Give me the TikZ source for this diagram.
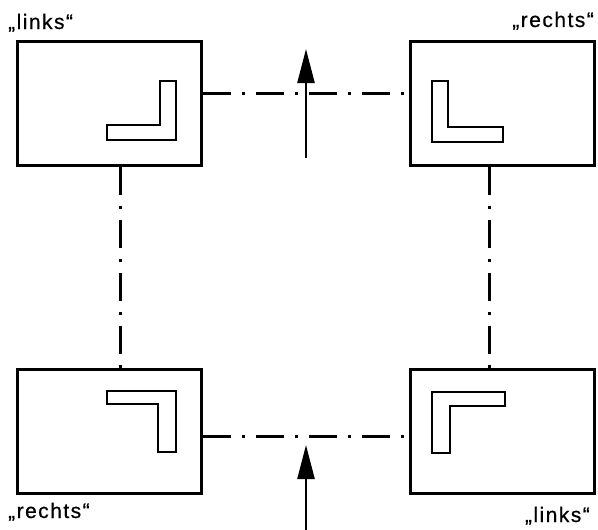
\documentclass[tikz,border=0pt]{standalone}
\usepackage{fontspec}
\setmainfont{Liberation Sans}
\newfontfamily\bildschrift[LetterSpace=7, FakeBold=0.6]{Liberation Sans}
\usetikzlibrary{arrows.meta}

\tikzset{
	spiegel/.style={draw, line width=2.8pt, inner sep=0pt, minimum width=184pt, minimum height=124pt, anchor=north west},
	winkel/.style={line width=2.8pt, line join=miter},
	strichpunkt/.style={line width=2.6pt, dash pattern=on 28pt off 11pt on 3pt off 11pt},
	blick/.style={line width=2.4pt, -{Triangle[length=34pt,width=17pt]}},
	schrift/.style={inner sep=0pt, font=\bildschrift\fontsize{21}{21}\selectfont}
}

\begin{document}
\begin{tikzpicture}[x=1pt, y=-1pt]
		\useasboundingbox (0,0) rectangle (598,530);
		% die vier Bilder
		\node[spiegel] (tl) at (16,40) {};
		\node[spiegel] (tr) at (409,40) {};
		\node[spiegel] (bl) at (16,368) {};
		\node[spiegel] (br) at (409,368) {};
		% Winkel in den Bildern
		\begin{scope}[shift={(tl.north west)}]
			\draw[winkel] (91,85) -- (144,85) -- (144,41) -- (160,41) -- (160,100) -- (91,100) -- cycle;
		\end{scope}
		\begin{scope}[shift={(tr.north west)}]
			\draw[winkel] (23,41) -- (39,41) -- (39,87) -- (94,87) -- (94,102) -- (23,102) -- cycle;
		\end{scope}
		\begin{scope}[shift={(bl.north west)}]
			\draw[winkel] (91,23) -- (160,23) -- (160,84) -- (142,84) -- (142,36) -- (91,36) -- cycle;
		\end{scope}
		\begin{scope}[shift={(br.north west)}]
			\draw[winkel] (23,24) -- (96,24) -- (96,38) -- (41,38) -- (41,85) -- (23,85) -- cycle;
		\end{scope}
		% Verbindungen
		\draw[strichpunkt] ([yshift=10pt]tl.east) -- ([yshift=10pt]tr.west);
		\draw[strichpunkt] ([yshift=-5pt]bl.east) -- ([yshift=-5pt]br.west);
		\draw[strichpunkt] ([xshift=11pt]tl.south) -- ([xshift=11pt]bl.north);
		\draw[strichpunkt] ([xshift=-13pt]tr.south) -- ([xshift=-13pt]br.north);
		% Blickrichtung
		\coordinate (oben) at (306,158);
		\coordinate (obenspitze) at (306,49);
		\coordinate (unten) at (306,530);
		\coordinate (untenspitze) at (306,445);
		\draw[blick] (oben) -- (obenspitze);
		\draw[blick] (unten) -- (untenspitze);
		% Beschriftung
		\node[schrift, anchor=base west] (l1) at (8,29) {„links“};
		\node[schrift, anchor=base east] (r1) at (594,27) {„rechts“};
		\node[schrift, anchor=base west] (r2) at (8,518) {„rechts“};
		\node[schrift, anchor=base east] (l2) at (590,522) {„links“};
	\end{tikzpicture}
\end{document}
